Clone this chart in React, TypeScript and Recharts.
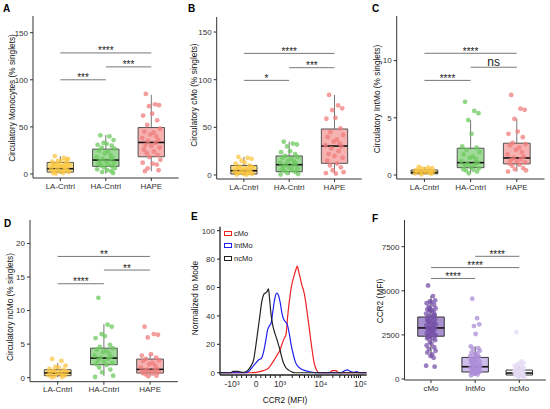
import React from 'react'
import {
  ComposedChart,
  XAxis,
  YAxis,
  Scatter,
  Line,
  ReferenceArea,
  ReferenceLine,
  Legend,
} from 'recharts'

const FONT = '"Liberation Sans", Arial, Helvetica, sans-serif'
const INK = '#333333'

const cohorts = ['LA-Cntrl', 'HA-Cntrl', 'HAPE']
const subsets = ['cMo', 'IntMo', 'ncMo']

// hand-placed horizontal offsets for the jittered dots (in category steps)
const jitter = [
  -0.12, 0.08, 0.17, -0.05, 0.02, -0.18, 0.13, -0.09, 0.19, -0.15, 0.05, -0.02, 0.11, -0.2,
  0.15, -0.07, 0.09, -0.13, 0.0, 0.18, -0.16, 0.06, -0.1, 0.14, -0.04, 0.2, -0.19, 0.03, 0.12,
  -0.08, 0.16, -0.14, 0.07, -0.01, 0.1, -0.17, 0.04, -0.11, 0.19, -0.06,
]

// A: circulatory monocytes (% singlets)
const monoLA = [19, 17, 16, 14, 14, 13, 12, 11, 10, 9, 8, 8, 7, 6, 5, 5, 4, 3, 3, 2, 1, 1, 0.5, 15]
const monoHA = [41, 40, 36, 33, 32, 31, 30, 28, 27, 25, 24, 22, 20, 18, 17, 16, 15, 14, 13, 12, 11, 10, 9, 8, 7, 6, 5, 4, 3, 2, 1]
const monoHAPE = [85, 74, 73, 72, 64, 62, 57, 52, 48, 45, 44, 42, 40, 38, 36, 35, 33, 31, 30, 28, 26, 24, 22, 20, 18, 15, 12, 11, 10, 6, 4, 3]
const monoBox = [
  { lo: 0, q1: 2, med: 5.6, q3: 12.3, hi: 19 },
  { lo: 0.4, q1: 8.1, med: 14.8, q3: 26.4, hi: 41.5 },
  { lo: 2.8, q1: 18.3, med: 33.5, q3: 49.3, hi: 84 },
]
const monoSig = [
  { from: 1, to: 2, y: 100, label: '***' },
  { from: 2, to: 3, y: 113.7, label: '***' },
  { from: 1, to: 3, y: 128.5, label: '****' },
]

// B: cMo
const cmoLA = [19, 18, 17, 15, 13, 12, 10, 9, 8, 7, 6, 5, 5, 4, 3, 3, 2, 2, 1, 1, 0.5, 0.3]
const cmoHA = [35, 33, 32, 30, 25, 24, 22, 20, 19, 18, 17, 15, 14, 13, 12, 11, 10, 9, 8, 7, 6, 5, 4, 3, 2, 1, 0.5]
const cmoHAPE = [84, 73, 70, 68, 60, 59, 49, 45, 42, 40, 37, 35, 33, 31, 30, 28, 25, 22, 20, 18, 15, 12, 10, 8, 5, 3, 2, 1.5]
const cmoBox = [
  { lo: 0, q1: 1, med: 4.5, q3: 10, hi: 19 },
  { lo: 0.5, q1: 3.5, med: 10.8, q3: 20, hi: 35 },
  { lo: 1.5, q1: 12.2, med: 30.4, q3: 48.3, hi: 84 },
]
const cmoSig = [
  { from: 1, to: 2, y: 99.3, label: '*' },
  { from: 2, to: 3, y: 112.6, label: '***' },
  { from: 1, to: 3, y: 127.6, label: '****' },
]

// C: IntMo
const intLA = [0.7, 0.65, 0.6, 0.55, 0.5, 0.45, 0.4, 0.35, 0.3, 0.3, 0.25, 0.2, 0.2, 0.15, 0.1, 0.05]
const intHA = [6.4, 5.6, 5.4, 4.8, 3.6, 2.5, 2.4, 2.2, 2.0, 1.8, 1.6, 1.5, 1.4, 1.2, 1.1, 1.0, 0.9, 0.8, 0.7, 0.6, 0.5, 0.45, 0.4, 0.3, 0.15]
const intHAPE = [7.0, 5.8, 5.7, 4.9, 3.8, 3.6, 3.3, 2.8, 2.7, 2.6, 2.4, 2.2, 2.0, 1.8, 1.6, 1.5, 1.4, 1.3, 1.2, 1.1, 1.0, 0.9, 0.8, 0.6, 0.5, 0.4, 0.3]
const intBox = [
  { lo: 0.05, q1: 0.1, med: 0.22, q3: 0.44, hi: 0.7 },
  { lo: 0.15, q1: 0.64, med: 1.08, q3: 2.34, hi: 4.8 },
  { lo: 0.3, q1: 0.97, med: 1.49, q3: 2.78, hi: 4.9 },
]
const intSig = [
  { from: 1, to: 2, y: 8.27, label: '****' },
  { from: 2, to: 3, y: 9.42, label: 'ns' },
  { from: 1, to: 3, y: 10.64, label: '****' },
]

// D: ncMo
const ncLA = [2.8, 2.5, 1.8, 1.6, 1.5, 1.3, 1.2, 1.0, 0.9, 0.8, 0.7, 0.6, 0.5, 0.4, 0.3, 0.2, 0.1, 0.05]
const ncHA = [11.9, 7.9, 7.6, 6.5, 6.2, 5.9, 4.9, 4.6, 4.4, 4.2, 4.0, 3.8, 3.6, 3.3, 3.1, 3.0, 2.8, 2.6, 2.4, 2.2, 2.0, 1.9, 1.5, 1.2, 0.8, 0.3, 0.1]
const ncHAPE = [7.6, 6.5, 6.4, 6.0, 3.5, 3.3, 3.0, 2.8, 2.6, 2.5, 2.2, 2.0, 1.8, 1.5, 1.3, 1.2, 1.1, 1.0, 0.9, 0.8, 0.7, 0.6, 0.5, 0.3, 0.2]
const ncBox = [
  { lo: 0.05, q1: 0.3, med: 0.7, q3: 1.19, hi: 2.2 },
  { lo: 0.25, q1: 1.93, med: 2.92, q3: 4.4, hi: 7.97 },
  { lo: 0.2, q1: 0.69, med: 1.24, q3: 2.77, hi: 3.5 },
]
const ncSig = [
  { from: 1, to: 2, y: 14.0, label: '****' },
  { from: 2, to: 3, y: 16.04, label: '**' },
  { from: 1, to: 3, y: 18.07, label: '**' },
]

// E: CCR2 histograms, x in display units of the biexponential axis
const ccrMajor = [-1, 0, 1, 2.7, 4.35]
const ccrMajorLabels = ['-10³', '0', '10³', '10⁴', '10⁵']
const ccrMinor = [
  -0.8, -0.6, -0.4, -0.2, 0.2, 0.4, 0.6, 0.8, 1.51, 1.81, 2.02, 2.19, 2.32, 2.44, 2.54, 2.62,
  3.2, 3.49, 3.69, 3.85, 3.98, 4.09, 4.19, 4.27,
]
const cmoCurve = [
  { u: -1.5, v: 0 }, { u: -0.2, v: 0 }, { u: 0, v: 0.3 }, { u: 0.3, v: 1.5 }, { u: 0.5, v: 3 },
  { u: 0.72, v: 8 }, { u: 0.9, v: 13 }, { u: 1.0, v: 16 }, { u: 1.1, v: 21 }, { u: 1.17, v: 24 },
  { u: 1.25, v: 27 }, { u: 1.32, v: 40 }, { u: 1.4, v: 52 }, { u: 1.49, v: 62 }, { u: 1.58, v: 68 },
  { u: 1.65, v: 72 }, { u: 1.72, v: 75 }, { u: 1.78, v: 71 }, { u: 1.85, v: 66 }, { u: 1.92, v: 61 },
  { u: 1.98, v: 58 }, { u: 2.06, v: 51 }, { u: 2.14, v: 41 }, { u: 2.22, v: 31 }, { u: 2.32, v: 18 },
  { u: 2.42, v: 7 }, { u: 2.52, v: 2 }, { u: 2.62, v: 0 }, { u: 3.05, v: 0 }, { u: 3.18, v: 1.5 },
  { u: 3.33, v: 1.5 }, { u: 3.45, v: 0 }, { u: 4.61, v: 0 },
]
const intCurve = [
  { u: -1.5, v: 0 }, { u: -0.45, v: 0 }, { u: -0.3, v: 1 }, { u: -0.15, v: 4 }, { u: 0, v: 7 },
  { u: 0.1, v: 9 }, { u: 0.22, v: 10 }, { u: 0.32, v: 15 }, { u: 0.4, v: 22 }, { u: 0.48, v: 30 },
  { u: 0.56, v: 33 }, { u: 0.63, v: 35 }, { u: 0.7, v: 43 }, { u: 0.78, v: 52 }, { u: 0.86, v: 56 },
  { u: 0.92, v: 55 }, { u: 1.0, v: 50 }, { u: 1.08, v: 42 }, { u: 1.14, v: 38 }, { u: 1.22, v: 36 },
  { u: 1.3, v: 34 }, { u: 1.38, v: 28 }, { u: 1.46, v: 20 }, { u: 1.55, v: 13 }, { u: 1.63, v: 8 },
  { u: 1.72, v: 5 }, { u: 1.85, v: 3 }, { u: 2.05, v: 1.5 }, { u: 2.3, v: 0.5 }, { u: 2.45, v: 0 },
  { u: 3.55, v: 0 }, { u: 3.7, v: 1.5 }, { u: 3.8, v: 2 }, { u: 3.9, v: 1.2 }, { u: 4.05, v: 0.2 },
  { u: 4.2, v: 0.8 }, { u: 4.3, v: 0 }, { u: 4.61, v: 0 },
]
const ncCurve = [
  { u: -1.5, v: 0 }, { u: -1.05, v: 0 }, { u: -0.95, v: 1 }, { u: -0.75, v: 1 }, { u: -0.6, v: 0.3 },
  { u: -0.45, v: 0.5 }, { u: -0.32, v: 2 }, { u: -0.2, v: 5 }, { u: -0.1, v: 9 }, { u: 0.0, v: 20 },
  { u: 0.08, v: 30 }, { u: 0.16, v: 40 }, { u: 0.24, v: 50 }, { u: 0.32, v: 55 }, { u: 0.38, v: 56 },
  { u: 0.45, v: 57 }, { u: 0.52, v: 59 }, { u: 0.56, v: 53 }, { u: 0.62, v: 42 }, { u: 0.69, v: 34 },
  { u: 0.78, v: 28 }, { u: 0.86, v: 24 }, { u: 0.93, v: 20 }, { u: 1.0, v: 16 }, { u: 1.07, v: 11 },
  { u: 1.14, v: 7 }, { u: 1.25, v: 3.5 }, { u: 1.35, v: 2 }, { u: 1.5, v: 0.5 }, { u: 1.6, v: 0 },
  { u: 4.61, v: 0 },
]

// F: CCR2 MFI by subset
const ccrCMo = [
  5300, 4700, 4450, 4400, 4350, 4300, 4200, 4100, 4000, 3950, 3900, 3850, 3800, 3700, 3650, 3600,
  3550, 3500, 3450, 3400, 3350, 3300, 3250, 3200, 3150, 3100, 3050, 3000, 2950, 2900, 2850, 2800,
  2750, 2700, 2650, 2600, 2550, 2500, 2450, 2400, 2350, 2300, 2200, 2100, 2000, 1900, 1800, 1700,
  1600, 1500, 1400, 1300, 1200, 750, 700, 3900, 3100, 2900, 2700, 2500, 2300, 2800, 3300, 3600, 4000,
]
const ccrInt = [
  4550, 3450, 3100, 3000, 2550, 1850, 1750, 1700, 1600, 1500, 1450, 1400, 1350, 1300, 1250, 1200,
  1150, 1100, 1050, 1000, 950, 900, 850, 800, 750, 700, 650, 600, 550, 500, 450, 400, 350, 300, 250,
  200, 1000, 900, 800, 700, 600, 500, 400, 300, 1200, 1100, 650, 550, 450, 350,
]
const ccrNc = [
  2650, 1000, 900, 850, 800, 750, 700, 650, 600, 550, 500, 450, 420, 400, 380, 350, 320, 300, 280,
  250, 220, 200, 180, 150, 120, 100, 500, 400, 300, 250, 200, 350, 450, 600,
]
const ccrBox = [
  { lo: 1250, q1: 2425, med: 2895, q3: 3515, hi: 4700 },
  { lo: 200, q1: 395, med: 695, q3: 1222, hi: 1850 },
  { lo: 100, q1: 225, med: 338, q3: 507, hi: 700 },
]
const ccrSig = [
  { from: 1, to: 2, y: 5700, label: '****' },
  { from: 1, to: 3, y: 6316, label: '****' },
  { from: 2, to: 3, y: 6955, label: '****' },
]

const cohortDots = ['#FBC640', '#6DC95F', '#F07C7C']
const cohortFills = ['#F8D46A', '#8FD486', '#F4A3A3']
const subsetDots = ['#7752A8', '#AC8DD8', '#E4D9F3']
const subsetFills = ['#9A7CC6', '#C6B2E6', '#FFFFFF']

type Stats = { lo: number; q1: number; med: number; q3: number; hi: number }
type Sig = { from: number; to: number; y: number; label: string }

const tickStyle = { fontSize: 8, fill: INK, fontFamily: FONT }

interface BoxPanelProps {
  left: number
  top: number
  width: number
  height: number
  margin: { top: number; right: number; bottom: number }
  yWidth: number
  yDomain: [number, number]
  yTicks: number[]
  cats: string[]
  groups: number[][]
  stats: Stats[]
  dots: string[]
  fills: string[]
  sigs: Sig[]
  spread?: number
  half?: number
  boxStroke?: string
  whisker?: string
}

function BoxPanel({
  left, top, width, height, margin, yWidth, yDomain, yTicks, cats, groups, stats, dots, fills, sigs,
  spread = 1, half = 0.29, boxStroke = '#444', whisker = '#666',
}: BoxPanelProps) {
  return (
    <div style={{ position: 'absolute', left, top }}>
      <ComposedChart width={width} height={height} margin={{ ...margin, left: 0 }}>
        <XAxis
          type="number"
          dataKey="x"
          domain={[0.4, 3.6]}
          allowDataOverflow
          ticks={[1, 2, 3]}
          interval={0}
          tickFormatter={(v: number) => cats[Math.round(v) - 1]}
          tick={tickStyle}
          tickSize={3}
          tickMargin={2}
          height={16}
          axisLine={{ stroke: INK }}
          tickLine={{ stroke: INK }}
        />
        <YAxis
          type="number"
          dataKey="y"
          domain={yDomain}
          allowDataOverflow
          ticks={yTicks}
          interval={0}
          width={yWidth}
          tick={tickStyle}
          tickSize={3}
          tickMargin={2}
          axisLine={{ stroke: INK }}
          tickLine={{ stroke: INK }}
        />
        {stats.map((s, i) => (
          <ReferenceArea
            key={'box' + i}
            x1={i + 1 - half}
            x2={i + 1 + half}
            y1={s.q1}
            y2={s.q3}
            fill={fills[i]}
            fillOpacity={0.85}
            stroke={boxStroke}
            strokeWidth={0.9}
            strokeOpacity={1}
          />
        ))}
        {stats.map((s, i) => (
          <ReferenceLine
            key={'wu' + i}
            segment={[{ x: i + 1, y: s.q3 }, { x: i + 1, y: s.hi }]}
            stroke={whisker}
            strokeWidth={0.9}
          />
        ))}
        {stats.map((s, i) => (
          <ReferenceLine
            key={'wl' + i}
            segment={[{ x: i + 1, y: s.lo }, { x: i + 1, y: s.q1 }]}
            stroke={whisker}
            strokeWidth={0.9}
          />
        ))}
        {groups.map((vals, gi) => (
          <Scatter
            key={'pts' + gi}
            data={vals.map((v, i) => ({ x: gi + 1 + jitter[i % jitter.length] * spread, y: v }))}
            isAnimationActive={false}
            shape={(p: any) => (
              <circle cx={p.cx} cy={p.cy} r={2.4} fill={dots[gi]} fillOpacity={0.75} />
            )}
          />
        ))}
        {stats.map((s, i) => (
          <ReferenceLine
            key={'med' + i}
            segment={[{ x: i + 1 - half, y: s.med }, { x: i + 1 + half, y: s.med }]}
            stroke="#111"
            strokeWidth={1.6}
          />
        ))}
        {sigs.map((s, i) => (
          <ReferenceLine
            key={'sig' + i}
            segment={[{ x: s.from, y: s.y }, { x: s.to, y: s.y }]}
            stroke="#555"
            strokeWidth={0.8}
            label={{
              value: s.label,
              position: 'top',
              offset: s.label === 'ns' ? 1.5 : -1.5,
              fontSize: s.label === 'ns' ? 12 : 10,
              fill: '#222',
              stroke: 'none',
              fontFamily: FONT,
            }}
          />
        ))}
      </ComposedChart>
    </div>
  )
}

function HistLegend({ payload }: any) {
  const items = [...(payload || [])].sort(
    (a: any, b: any) => subsets.indexOf(a.value) - subsets.indexOf(b.value),
  )
  return (
    <div style={{ fontFamily: FONT, fontSize: 7.5, color: '#222' }}>
      {items.map((p: any) => (
        <div key={p.value} style={{ display: 'flex', alignItems: 'center', height: 12.5 }}>
          <span
            style={{
              display: 'inline-block',
              width: 6,
              height: 3,
              border: `1px solid ${p.color}`,
              marginRight: 2,
            }}
          />
          {p.value}
        </div>
      ))}
    </div>
  )
}

function HistPanel() {
  return (
    <div style={{ position: 'absolute', left: 185, top: 200 }}>
      <ComposedChart width={185} height={209} margin={{ top: 26.7, right: 3.3, bottom: 18, left: 0 }}>
        <XAxis
          type="number"
          dataKey="u"
          domain={[-1.5, 4.61]}
          allowDataOverflow
          ticks={[...ccrMajor, ...ccrMinor]}
          interval={0}
          tickFormatter={(v: number) => {
            const k = ccrMajor.indexOf(v)
            return k >= 0 ? ccrMajorLabels[k] : ''
          }}
          tick={{ ...tickStyle, fontSize: 8.5 }}
          tickSize={3}
          tickMargin={3}
          height={16}
          axisLine={{ stroke: '#222', strokeWidth: 1.3 }}
          tickLine={{ stroke: '#222' }}
        />
        <YAxis
          type="number"
          domain={[-1.6, 102.8]}
          allowDataOverflow
          ticks={[0, 20, 40, 60, 80, 100]}
          interval={0}
          width={35}
          tick={tickStyle}
          tickSize={3}
          tickMargin={2}
          axisLine={{ stroke: '#222', strokeWidth: 1.3 }}
          tickLine={{ stroke: '#222' }}
        />
        <Line data={cmoCurve} dataKey="v" name={subsets[0]} type="monotone" stroke="#EE2124" strokeWidth={1.2} dot={false} isAnimationActive={false} />
        <Line data={intCurve} dataKey="v" name={subsets[1]} type="monotone" stroke="#2020F0" strokeWidth={1.2} dot={false} isAnimationActive={false} />
        <Line data={ncCurve} dataKey="v" name={subsets[2]} type="monotone" stroke="#222222" strokeWidth={1.2} dot={false} isAnimationActive={false} />
        <Legend
          layout="vertical"
          align="center"
          verticalAlign="middle"
          content={HistLegend}
          wrapperStyle={{ left: 39, top: 26.8, width: 60 }}
        />
      </ComposedChart>
    </div>
  )
}

const letterStyle: React.CSSProperties = {
  position: 'absolute',
  fontFamily: FONT,
  fontWeight: 'bold',
  fontSize: 10,
  lineHeight: '10px',
  color: '#000',
}

function Letter({ x, y, t }: { x: number; y: number; t: string }) {
  return <div style={{ ...letterStyle, left: x, top: y }}>{t}</div>
}

function VTitle({ x, y, t }: { x: number; y: number; t: string }) {
  return (
    <div
      style={{
        position: 'absolute',
        left: x,
        top: y,
        transform: 'translate(-50%, -50%) rotate(-90deg)',
        whiteSpace: 'nowrap',
        fontFamily: FONT,
        fontSize: 8.3,
        color: '#111',
      }}
    >
      {t}
    </div>
  )
}

export default function App() {
  return (
    <div style={{ position: 'absolute', left: 0, top: 0, width: 550, height: 409, background: '#fff', overflow: 'hidden' }}>
      <BoxPanel
        left={0} top={0} width={185} height={200}
        margin={{ top: 16, right: 6.4, bottom: 6 }}
        yWidth={33} yDomain={[-4.25, 167.7]} yTicks={[0, 50, 100, 150]}
        cats={cohorts} groups={[monoLA, monoHA, monoHAPE]} stats={monoBox}
        dots={cohortDots} fills={cohortFills} sigs={monoSig}
      />
      <BoxPanel
        left={185} top={0} width={185} height={200}
        margin={{ top: 17, right: 8.3, bottom: 5 }}
        yWidth={31.7} yDomain={[-4.2, 165.8]} yTicks={[0, 50, 100, 150]}
        cats={cohorts} groups={[cmoLA, cmoHA, cmoHAPE]} stats={cmoBox}
        dots={cohortDots} fills={cohortFills} sigs={cmoSig}
      />
      <BoxPanel
        left={365} top={0} width={185} height={200}
        margin={{ top: 16, right: 5.5, bottom: 5 }}
        yWidth={31.7} yDomain={[-0.35, 13.9]} yTicks={[0, 5, 10]}
        cats={cohorts} groups={[intLA, intHA, intHAPE]} stats={intBox}
        dots={cohortDots} fills={cohortFills} sigs={intSig}
      />
      <BoxPanel
        left={0} top={200} width={185} height={209}
        margin={{ top: 20, right: 7.2, bottom: 11.3 }}
        yWidth={30} yDomain={[-0.6, 23.5]} yTicks={[0, 5, 10, 15, 20]}
        cats={cohorts} groups={[ncLA, ncHA, ncHAPE]} stats={ncBox}
        dots={cohortDots} fills={cohortFills} sigs={ncSig}
      />
      <HistPanel />
      <BoxPanel
        left={365} top={200} width={185} height={209}
        margin={{ top: 20, right: 4.2, bottom: 13 }}
        yWidth={39.5} yDomain={[-57, 9014]} yTicks={[0, 2500, 5000, 7500]}
        cats={subsets} groups={[ccrCMo, ccrInt, ccrNc]} stats={ccrBox}
        dots={subsetDots} fills={subsetFills} sigs={ccrSig}
        spread={0.55} half={0.3} boxStroke="#222" whisker="#333"
      />

      <Letter x={3} y={4} t="A" />
      <Letter x={188} y={4} t="B" />
      <Letter x={372} y={4} t="C" />
      <Letter x={4} y={219} t="D" />
      <Letter x={191} y={212} t="E" />
      <Letter x={372} y={214} t="F" />

      <VTitle x={11.7} y={97.5} t="Circulatory Monocytes (% singlets)" />
      <VTitle x={193.5} y={95} t="Circulatory cMo (% singlets)" />
      <VTitle x={376.5} y={99} t="Circulatory IntMo (% singlets)" />
      <VTitle x={10} y={306.7} t="Circulatory ncMo (% singlets)" />
      <VTitle x={195} y={298} t="Normalized to Mode" />
      <VTitle x={380} y={300.7} t="CCR2 (MFI)" />
      <div
        style={{
          position: 'absolute',
          left: 285,
          top: 400,
          transform: 'translate(-50%, -50%)',
          whiteSpace: 'nowrap',
          fontFamily: FONT,
          fontSize: 8.3,
          color: '#111',
        }}
      >
        CCR2 (MFI)
      </div>
    </div>
  )
}
